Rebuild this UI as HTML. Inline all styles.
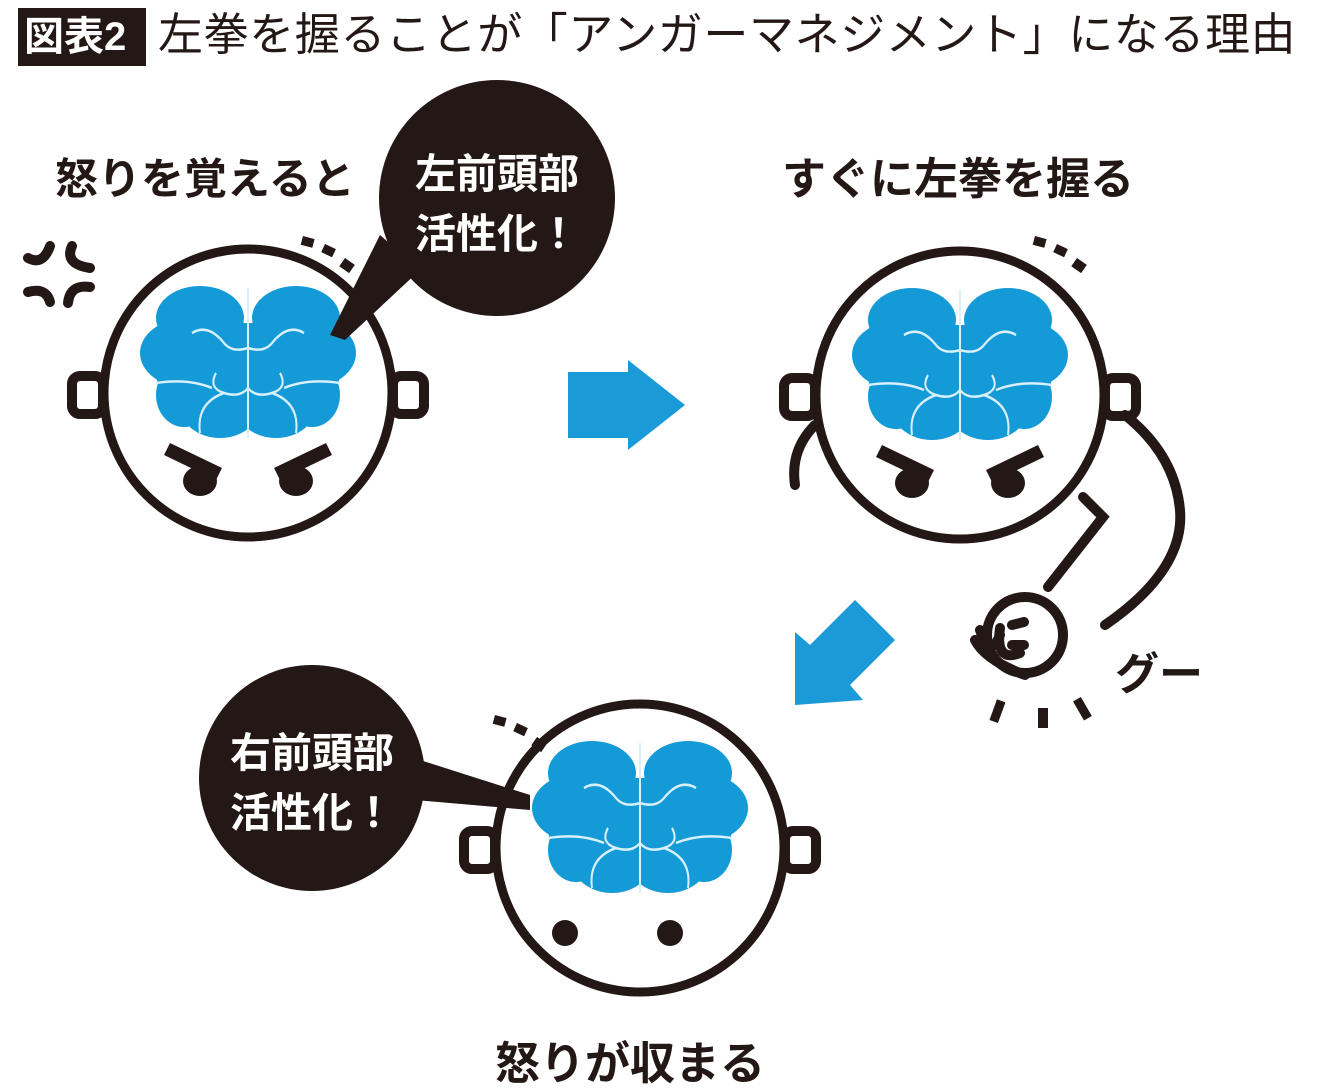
<!DOCTYPE html>
<html><head><meta charset="utf-8"><style>
html,body{margin:0;padding:0;background:#fff;}
body{width:1340px;height:1091px;overflow:hidden;position:relative;font-family:"Liberation Sans","Noto Sans CJK JP",sans-serif;}
.t{position:absolute;white-space:nowrap;color:#231815;font-weight:bold;}
svg{position:absolute;left:0;top:0;}
</style></head><body>
<svg width="1340" height="1091" viewBox="0 0 1340 1091">
<defs>
<g id="brain0">
 <g fill="#159ad8">
  <ellipse cx="-60" cy="-75" rx="55" ry="32"/>
  <ellipse cx="60" cy="-75" rx="55" ry="32"/>
  <ellipse cx="-75" cy="-40" rx="60" ry="35"/>
  <ellipse cx="75" cy="-40" rx="60" ry="35"/>
  <ellipse cx="-80" cy="2" rx="35" ry="32"/>
  <ellipse cx="80" cy="2" rx="35" ry="32"/>
  <ellipse cx="-35" cy="10" rx="52" ry="35"/>
  <ellipse cx="35" cy="10" rx="52" ry="35"/>
  <ellipse cx="-85" cy="-20" rx="30" ry="28"/>
  <ellipse cx="85" cy="-20" rx="30" ry="28"/>
  <rect x="-90" y="-70" width="180" height="80"/>
 </g>
 <g fill="none" stroke="#d8f0fb" stroke-width="2.5">
  <line x1="0" y1="-105" x2="0" y2="45"/>
  <path d="M-70 -60 q20 -10 40 10 q10 10 30 5"/><path d="M70 -60 q-20 -10 -40 10 q-10 10 -30 5"/>
  <path d="M-40 -20 q-10 15 10 20 q20 5 30 -5"/><path d="M40 -20 q10 15 -10 20 q-20 5 -30 -5"/>
  <path d="M-115 -10 q40 -5 70 5"/><path d="M115 -10 q-40 -5 -70 5"/>
  <path d="M-60 40 q-5 -30 30 -40"/><path d="M60 40 q5 -30 -30 -40"/>
 </g>
</g>
<g id="brain"><use href="#brain0" transform="scale(0.8,1)"/></g>
<g id="head" fill="none" stroke="#231815" stroke-width="9">
 <rect x="-176" y="-17" width="31" height="38" rx="8" stroke-width="10"/>
 <rect x="145" y="-17" width="31" height="38" rx="8" stroke-width="10"/>
 <circle cx="0" cy="0" r="144" fill="#fff"/>
</g>
<g id="angry" fill="#231815">
 <path d="M-78 50 l52 25 l-6 12 l-52 -25z"/>
 <ellipse cx="-48" cy="88" rx="17" ry="15"/>
 <path d="M78 50 l-52 25 l6 12 l52 -25z"/>
 <ellipse cx="48" cy="88" rx="17" ry="15"/>
</g>
<g id="dashes" fill="#231815">
 <rect x="0" y="0" width="12" height="9" transform="rotate(15)"/>
 <rect x="22" y="8" width="12" height="9" transform="rotate(25 22 8)"/>
 <rect x="42" y="22" width="12" height="10" transform="rotate(35 42 22)"/>
</g>
</defs>

<!-- head 1 -->
<g transform="translate(248,393)"><use href="#head"/><use href="#brain"/><use href="#angry"/></g>
<use href="#dashes" transform="translate(303,236)"/>
<!-- anger mark -->
<g stroke="#231815" stroke-width="10" fill="none" stroke-linecap="round">
 <path d="M28 258 q15 8 22 -12"/><path d="M72 246 q-8 18 18 22"/>
 <path d="M28 292 q18 -5 22 10"/><path d="M90 287 q-20 -3 -22 16"/>
</g>
<!-- bubble 1 -->
<path d="M380 235 L330 335 L345 340 L420 270 Z" fill="#231815"/>
<circle cx="497" cy="198" r="118" fill="#231815"/>

<!-- arrow right -->
<path d="M568 372 H628 V360 L685 405 L628 450 V438 H568 Z" fill="#1a9ad6"/>

<!-- head 2 -->
<g fill="none" stroke="#231815" stroke-width="10" stroke-linecap="round">
 <path d="M815 425 q-25 25 -20 60"/>
 <path d="M1125 415 q50 40 55 95 q5 60 -75 115"/>
 <path d="M1083 497 l20 20 l-55 70"/>
 <circle cx="1025" cy="635" r="38" fill="#fff"/>
 <path d="M1000 635 q-10 25 -20 -5 M1000 628 q-5 35 20 25 M1012 625 l12 -3 M1012 645 l12 0"/>
 <path d="M975 640 q10 20 50 35"/>
</g>
<g transform="translate(960,395)"><use href="#head"/><use href="#brain"/><use href="#angry"/></g>
<use href="#dashes" transform="translate(1035,236)"/>
<g fill="#231815">
 <rect x="993" y="700" width="9" height="22" transform="rotate(20 997 711)"/>
 <rect x="1038" y="708" width="10" height="20"/>
 <rect x="1078" y="698" width="9" height="22" transform="rotate(-30 1082 709)"/>
</g>

<!-- diag arrow -->
<path d="M795 632 L810 645 L855 600 L895 640 L850 685 L863 700 L795 705 Z" fill="#1a9ad6"/>

<!-- head 3 -->
<g transform="translate(640,848)"><use href="#head"/><use href="#brain"/>
 <circle cx="-75" cy="85" r="13" fill="#231815"/><circle cx="30" cy="85" r="13" fill="#231815"/></g>
<use href="#dashes" transform="translate(495,715)"/>
<!-- bubble 3 -->
<path d="M420 760 L530 795 L530 810 L415 800 Z" fill="#231815"/>
<circle cx="312" cy="778" r="113" fill="#231815"/>

<!-- title box -->
<rect x="18" y="8" width="128" height="58" fill="#231815"/>
</svg>

<div class="t" style="left:24px;top:12px;font-size:40px;color:#fff;line-height:50px;">図表2</div>
<div class="t" style="left:158px;top:8px;font-size:45px;font-weight:normal;line-height:54px;letter-spacing:0.6px;">左拳を握ることが「アンガーマネジメント」になる理由</div>

<div class="t" style="left:55px;top:155px;font-size:43px;line-height:50px;">怒りを覚えると</div>
<div class="t" style="left:415px;top:144px;font-size:41px;line-height:60px;color:#fff;">左前頭部<br>活性化！</div>
<div class="t" style="left:782px;top:155px;font-size:44px;line-height:50px;">すぐに左拳を握る</div>
<div class="t" style="left:1115px;top:650px;font-size:44px;line-height:50px;">グー</div>
<div class="t" style="left:230px;top:723px;font-size:41px;line-height:60px;color:#fff;">右前頭部<br>活性化！</div>
<div class="t" style="left:495px;top:1038px;font-size:45px;line-height:52px;">怒りが収まる</div>
</body></html>
